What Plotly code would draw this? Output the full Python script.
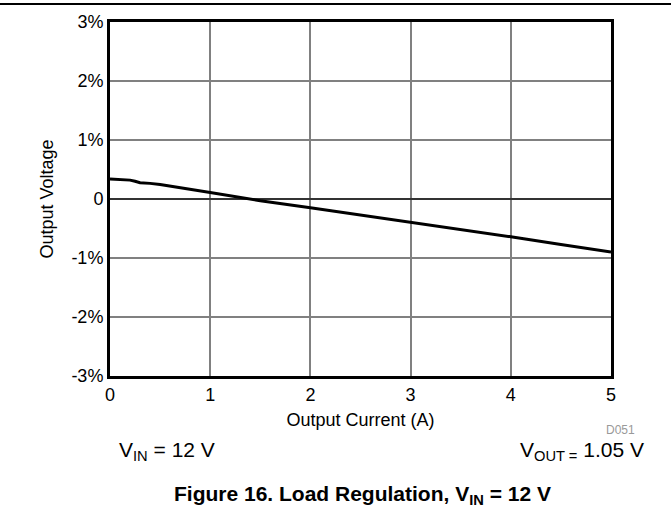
import plotly.graph_objects as go

current_a = [0, 0.1, 0.2, 0.25, 0.3, 0.4, 0.5, 1.0, 1.5, 2.0, 2.5, 3.0, 3.5, 4.0, 4.5, 5.0]
output_pct = [0.34, 0.335, 0.32, 0.30, 0.275, 0.265, 0.245, 0.11, -0.03, -0.15, -0.27, -0.39, -0.51, -0.64, -0.77, -0.90]

y_ticks = [3, 2, 1, 0, -1, -2, -3]
y_tick_labels = ["3%", "2%", "1%", "0", "-1%", "-2%", "-3%"]
x_ticks = [0, 1, 2, 3, 4, 5]

W, H = 671, 512
L, R, T, B = 110, 60, 22, 136
pw, ph = W - L - R, H - T - B

FAM = "Liberation Sans, Arial, sans-serif"

fig = go.Figure()
fig.add_trace(go.Scatter(x=current_a, y=output_pct, mode="lines",
                         line=dict(color="black", width=3), showlegend=False,
                         hoverinfo="skip"))

font = dict(family=FAM, size=18, color="black")

fig.update_layout(
    width=W, height=H,
    margin=dict(l=L, r=R, t=T, b=B),
    paper_bgcolor="white", plot_bgcolor="white",
    font=font,
    xaxis=dict(range=[0, 5], tickvals=x_ticks, ticks="", showgrid=True,
               gridcolor="#808080", gridwidth=1.5, zeroline=False,
               showline=True, linecolor="black", linewidth=3, mirror=True,
               title=dict(text="Output Current (A)", standoff=10, font=font),
               tickfont=font),
    yaxis=dict(range=[-3, 3], tickvals=y_ticks, ticktext=y_tick_labels, ticks="",
               showgrid=True, gridcolor="#808080", gridwidth=1.5, zeroline=True,
               zerolinecolor="#333333", zerolinewidth=1.5,
               showline=True, linecolor="black", linewidth=3, mirror=True,
               title=dict(text="Output Voltage", standoff=14, font=font),
               tickfont=font),
)

def px(xp):
    return (xp - L) / pw

def py(yp):
    return (H - B - yp) / ph

fig.add_shape(type="line", xref="paper", yref="paper",
              x0=px(0), x1=px(W), y0=py(4), y1=py(4),
              line=dict(color="black", width=2))

fig.add_annotation(text="D051", xref="paper", yref="paper", x=px(637), y=py(430),
                   xanchor="right", yanchor="middle", showarrow=False,
                   font=dict(family=FAM, size=12, color="#999999"))
fig.add_annotation(text="V<sub>IN</sub> = 12 V", xref="paper", yref="paper",
                   x=px(117), y=py(451), xanchor="left", yanchor="middle", showarrow=False,
                   font=dict(family=FAM, size=21, color="black"))
fig.add_annotation(text="V<sub>OUT =</sub> 1.05 V", xref="paper", yref="paper",
                   x=px(646), y=py(451), xanchor="right", yanchor="middle", showarrow=False,
                   font=dict(family=FAM, size=21, color="black"))
fig.add_annotation(text="<b>Figure 16. Load Regulation, V<sub>IN</sub> = 12 V</b>",
                   xref="paper", yref="paper", x=px(362), y=py(495),
                   xanchor="center", yanchor="middle", showarrow=False,
                   font=dict(family=FAM, size=21, color="black"))

fig.write_html("out.html", config={"displayModeBar": False},
               post_script="document.body.style.margin='0';document.body.style.overflow='hidden';")
